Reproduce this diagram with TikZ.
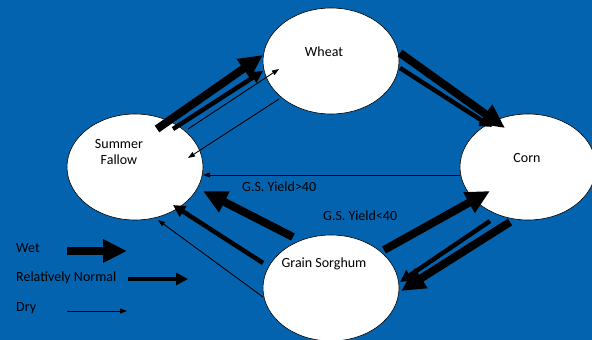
\documentclass[tikz,border=0pt]{standalone}
\usepackage{fontspec}
\setmainfont{Carlito}
\usetikzlibrary{arrows.meta,shapes.geometric}
\definecolor{bgblue}{RGB}{3,99,174}
\tikzset{
  field/.style={ellipse,draw=black,line width=0.6pt,fill=white,minimum width=136pt,minimum height=106pt,inner sep=0pt},
  lbl/.style={font=\fontsize{14pt}{16pt}\selectfont,text=black,inner sep=0pt},
  wetarrow/.style={line width=8pt,-{Triangle[length=24pt,width=22pt]}},
  normarrow/.style={line width=4.5pt,-{Triangle[length=12pt,width=12pt]}},
  dryarrow/.style={line width=0.9pt,-{Triangle[length=7pt,width=5pt]}}
}
\begin{document}
\begin{tikzpicture}[x=1pt,y=-1pt]
\fill[bgblue] (0,0) rectangle (592,340);
\useasboundingbox (0,0) rectangle (592,340);
\clip (0,0) rectangle (592,340);
% fields
\node[field] (wheat) at (331,61) {};
\node[field] (fallow) at (135,167) {};
\node[field] (corn) at (528,167) {};
\node[field] (sorghum) at (331,288) {};
\node[lbl] (wheatl) at (324,52) {Wheat};
\node[lbl,align=center] (fallowl) at (119,152) {Summer\\Fallow};
\node[lbl] (cornl) at (527,158) {Corn};
\node[lbl] (sorghuml) at (324,264) {Grain Sorghum};
% endpoints
\coordinate (fw1) at (157,129); \coordinate (fw1t) at (263,55);
\coordinate (fw2) at (173,129); \coordinate (fw2t) at (263,71);
\coordinate (fw3) at (188,129); \coordinate (fw3t) at (279,69);
\coordinate (wf3) at (279,99);  \coordinate (wf3t) at (188,158);
\coordinate (wc1) at (400,53);  \coordinate (wc1t) at (505,128);
\coordinate (wc2) at (400,68);  \coordinate (wc2t) at (492,127);
\coordinate (cf3) at (460,175); \coordinate (cf3t) at (203,175);
\coordinate (sf1) at (293,237); \coordinate (sf1t) at (203,191);
\coordinate (sf2) at (263,263); \coordinate (sf2t) at (173,205);
\coordinate (sf3) at (263,297); \coordinate (sf3t) at (158,220);
\coordinate (sc1) at (384,250); \coordinate (sc1t) at (490,191);
\coordinate (cs2) at (490,221); \coordinate (cs2t) at (400,282);
\coordinate (cs1) at (510,222); \coordinate (cs1t) at (401,291);
% arrows
\draw[wetarrow] (fw1) -- (fw1t);
\draw[normarrow] (fw2) -- (fw2t);
\draw[dryarrow] (fw3) -- (fw3t);
\draw[dryarrow] (wf3) -- (wf3t);
\draw[wetarrow] (wc1) -- (wc1t);
\draw[normarrow] (wc2) -- (wc2t);
\draw[dryarrow] (cf3) -- (cf3t);
\draw[wetarrow] (sf1) -- (sf1t);
\draw[normarrow] (sf2) -- (sf2t);
\draw[dryarrow] (sf3) -- (sf3t);
\draw[wetarrow] (sc1) -- (sc1t);
\draw[normarrow] (cs2) -- (cs2t);
\draw[wetarrow] (cs1) -- (cs1t);
% labels
\node[lbl,anchor=west] (gs1) at (242,187) {G.S. Yield>40};
\node[lbl,anchor=west] (gs2) at (323,216) {G.S. Yield<40};
% legend
\node[lbl,anchor=west] (wet) at (16,248) {Wet};
\node[lbl,anchor=west] (norm) at (16,278) {Relatively Normal};
\node[lbl,anchor=west] (dry) at (16,308) {Dry};
\coordinate (lw1) at (67,251); \coordinate (lw2) at (127,251);
\coordinate (ln1) at (128,279); \coordinate (ln2) at (188,279);
\coordinate (ld1) at (67,311); \coordinate (ld2) at (127,311);
\draw[wetarrow] (lw1) -- (lw2);
\draw[normarrow] (ln1) -- (ln2);
\draw[dryarrow] (ld1) -- (ld2);
\end{tikzpicture}
\end{document}
